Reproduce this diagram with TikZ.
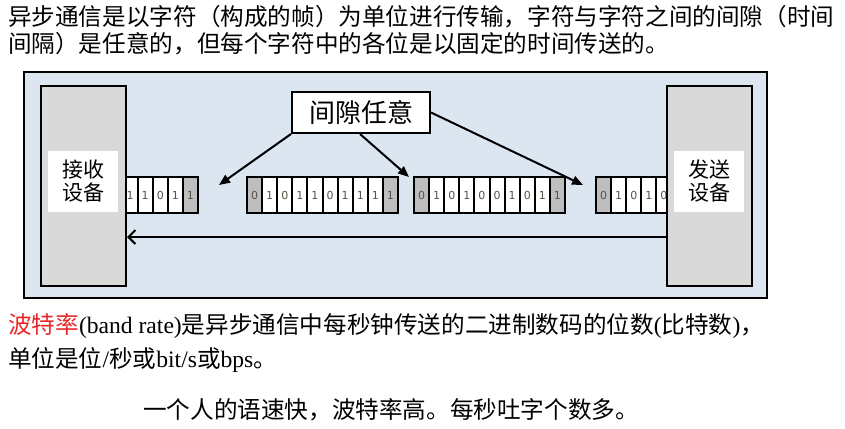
\documentclass[tikz,border=0pt]{standalone}
\usepackage{fontspec}
\setmainfont{Liberation Serif}
\newfontfamily\cjk{Noto Sans CJK SC}
\newfontfamily\digitfont{DejaVu Sans}
\usetikzlibrary{arrows.meta}
\definecolor{panelblue}{RGB}{220,230,241}
\definecolor{devgray}{RGB}{217,217,217}
\definecolor{cellgray}{RGB}{190,190,190}
\definecolor{digitcol}{RGB}{90,80,70}
\definecolor{termred}{RGB}{232,40,40}
\begin{document}
\begin{tikzpicture}[x=1pt,y=-1pt,
  txt/.style={anchor=west, inner sep=0pt, font=\fontsize{23.6}{23.6}\selectfont\cjk},
  panel/.style={draw=black, line width=2pt, fill=panelblue},
  device/.style={draw=black, line width=2pt, fill=devgray, minimum width=85pt, minimum height=200pt, inner sep=0pt},
  devlabel/.style={fill=white, minimum width=70pt, minimum height=61pt, inner sep=0pt, align=left, font=\fontsize{21}{23}\selectfont\cjk},
  wcell/.style={draw=black, line width=2pt, fill=white, minimum width=15.1pt, minimum height=36pt, inner sep=0pt, font=\fontsize{11}{11}\selectfont\digitfont, text=digitcol},
  gcell/.style={wcell, fill=cellgray},
  callout/.style={draw=black, line width=2pt, fill=white, minimum width=138pt, minimum height=41pt, inner sep=0pt, font=\fontsize{26}{26}\selectfont\cjk},
  ptr/.style={line width=2pt, -{Triangle[length=11pt,width=9pt]}},
  flow/.style={line width=2pt, -{Straight Barb[length=7pt,width=14pt,line width=2pt]}}
]
\useasboundingbox (0,0) rectangle (845,428);

% top text
\node[txt] (t1) at (8,17) {异步通信是以字符（构成的帧）为单位进行传输，字符与字符之间的间隙（时间};
\node[txt] (t2) at (8,44) {间隔）是任意的，但每个字符中的各位是以固定的时间传送的。};

% panel
\draw[panel] (24,72) rectangle (767,298);

% frames of bits
\foreach \b/\s [count=\i] in {1/gcell,1/wcell,0/wcell,1/wcell,1/wcell}
  \node[\s] (fa-\i) at ({198-15.1*(\i-0.5)},195) {\b};
\foreach \b/\s [count=\i] in {0/gcell,1/wcell,0/wcell,1/wcell,1/wcell,0/wcell,1/wcell,1/wcell,1/wcell,1/gcell}
  \node[\s] (fb-\i) at ({247+15.1*(\i-0.5)},195) {\b};
\foreach \b/\s [count=\i] in {0/gcell,1/wcell,0/wcell,1/wcell,0/wcell,0/wcell,1/wcell,0/wcell,1/wcell,1/gcell}
  \node[\s] (fc-\i) at ({414+15.1*(\i-0.5)},195) {\b};
\foreach \b/\s [count=\i] in {0/gcell,1/wcell,0/wcell,1/wcell,0/wcell}
  \node[\s] (fd-\i) at ({596+15.1*(\i-0.5)},195) {\b};

% devices
\node[device] (recv) at (83.5,186) {};
\node[devlabel] (recvlbl) at (83,181.5) {接收\\设备};
\node[device] (send) at (709,186) {};
\node[devlabel] (sendlbl) at (709,181.5) {发送\\设备};

% callout
\node[callout] (gap) at (361,112.5) {间隙任意};
\coordinate (g1) at (219,185);
\coordinate (g2) at (409,177);
\coordinate (g3) at (583,185);
\draw[ptr] (gap.south west) -- (g1);
\draw[ptr] ([xshift=-1pt]gap.south) -- (g2);
\draw[ptr] (gap.east) -- (g3);

% flow arrow
\coordinate (fy) at (0,237);
\draw[flow] (send.west |- fy) -- (recv.east |- fy);

% bottom text
\node[txt] (b1) at (8,326) {\textcolor{termred}{波特率}{\rmfamily(band rate)}是异步通信中每秒钟传送的二进制数码的位数{\rmfamily(}比特数{\rmfamily)}，};
\node[txt] (b2) at (8,360) {单位是位{\rmfamily/}秒或{\rmfamily bit/s}或{\rmfamily bps}。};
\node[txt] (b3) at (143,410) {一个人的语速快，波特率高。每秒吐字个数多。};
\end{tikzpicture}
\end{document}
